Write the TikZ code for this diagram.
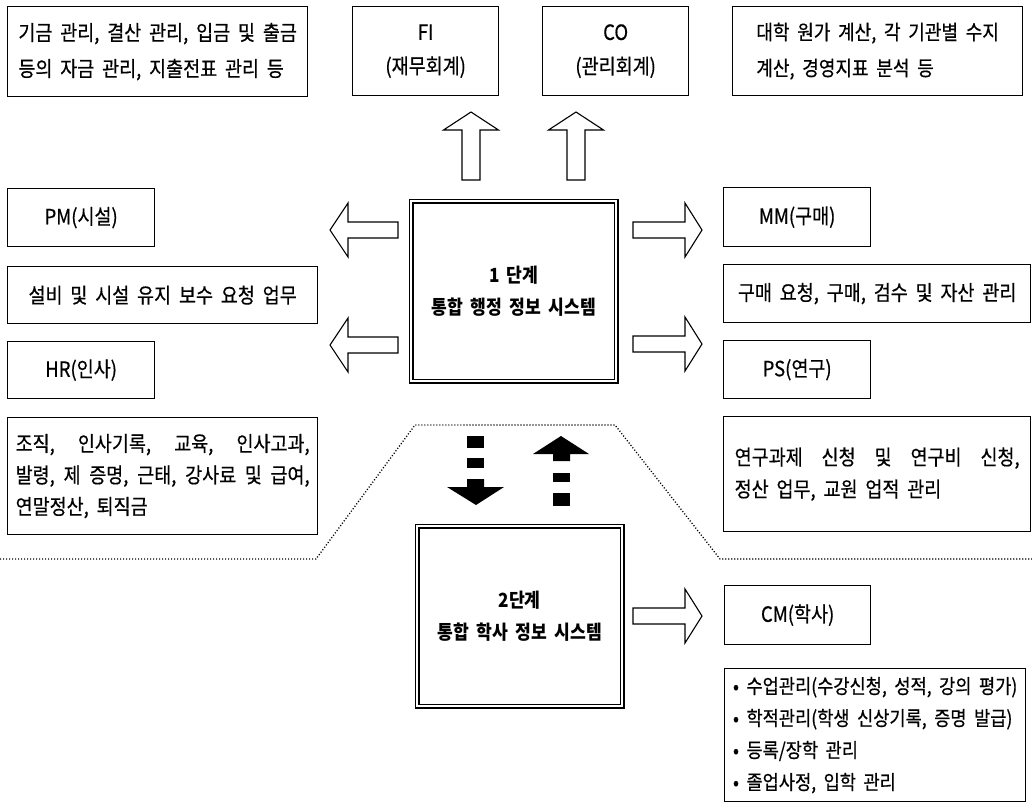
\documentclass[tikz,border=0pt]{standalone}
\usepackage{fontspec}
\setmainfont{Noto Sans CJK KR}[FakeStretch=0.88, WordSpace=1.9, UprightFeatures={FakeBold=0.5}]
\begin{document}
\begin{tikzpicture}[x=1pt,y=-1pt,
  every node/.style={font=\fontsize{21}{32}\selectfont},
  box/.style={draw, line width=1.3pt, anchor=north west, inner sep=0pt, align=center},
  lbox/.style={box, align=left},
  stage/.style={draw, double, line width=1.5pt, double distance=1.8pt, anchor=north west,
    minimum width=205, minimum height=180, align=center,
    font=\fontsize{19.5}{32}\selectfont\bfseries},
  hollow/.style={draw, line width=1.1pt, fill=white, line join=miter},
  dotline/.style={line width=1.3pt, dash pattern=on 1.1pt off 1.9pt},
  hup/.pic={\draw[hollow] (0,0) -- (27.5,18) -- (9,18) -- (9,68) -- (-9,68) -- (-9,18) -- (-27.5,18) -- cycle;},
  hleft/.pic={\draw[hollow] (0,0) -- (18,-27) -- (18,-8) -- (68,-8) -- (68,8) -- (18,8) -- (18,27) -- cycle;},
  hright/.pic={\draw[hollow] (0,0) -- (-17,-27) -- (-17,-8) -- (-69,-8) -- (-69,8) -- (-17,8) -- (-17,27) -- cycle;}
]
\useasboundingbox (0,0) rectangle (1032,804);

% top row
\node[lbox, minimum width=300, minimum height=90, font=\fontsize{21}{36}\selectfont] (desc1) at (7,6)
  {기금 관리, 결산 관리, 입금 및 출금\\등의 자금 관리, 지출전표 관리 등};
\node[box, minimum width=146, minimum height=89, font=\fontsize{21}{34}\selectfont] (fi) at (352,6) {FI\\(재무회계)};
\node[box, minimum width=146, minimum height=89, font=\fontsize{21}{34}\selectfont] (co) at (542,6) {CO\\(관리회계)};
\node[lbox, minimum width=290, minimum height=89, font=\fontsize{20.5}{36}\selectfont] (desc2) at (732,6)
  {대학 원가 계산, 각 기관별 수지\\계산, 경영지표 분석 등};

% stage boxes
\node[stage] (s1) at (410.5,200.5) {1 단계\\통합 행정 정보 시스템};
\node[stage] (s2) at (416.5,525.5) {2단계\\통합 학사 정보 시스템};

% left column
\node[box, minimum width=147, minimum height=58] (pm) at (7,188) {PM(시설)};
\node[box, minimum width=310, minimum height=57] (desc3) at (7,266) {설비 및 시설 유지 보수 요청 업무};
\node[box, minimum width=147, minimum height=57] (hr) at (7,341) {HR(인사)};
\node[lbox, minimum width=310, minimum height=117, font=\fontsize{21}{31.5}\selectfont] (desc4) at (7,417)
  {\makebox[294pt][s]{조직, 인사기록, 교육, 인사고과,}\\
   \makebox[294pt][s]{발령, 제 증명, 근태, 강사료 및 급여,}\\
   \makebox[294pt][l]{연말정산, 퇴직금}};

% right column
\node[box, minimum width=147, minimum height=59] (mm) at (723,187) {MM(구매)};
\node[box, minimum width=307, minimum height=58] (desc5) at (723,264) {구매 요청, 구매, 검수 및 자산 관리};
\node[box, minimum width=147, minimum height=58] (ps) at (723,340) {PS(연구)};
\node[lbox, minimum width=307, minimum height=115, font=\fontsize{21}{32}\selectfont] (desc6) at (723,416)
  {\makebox[285pt][s]{연구과제 신청 및 연구비 신청,}\\
   \makebox[285pt][l]{정산 업무, 교원 업적 관리}};
\node[box, minimum width=146, minimum height=59] (cm) at (724,585) {CM(학사)};
\node[lbox, minimum width=301, minimum height=133, font=\fontsize{20}{32}\selectfont] (desc7) at (724,668)
  {• 수업관리(수강신청, 성적, 강의 평가)\\• 학적관리(학생 신상기록, 증명 발급)\\• 등록/장학 관리\\• 졸업사정, 입학 관리};

% hollow arrows
\pic at (471,112) {hup};
\pic at (576,112) {hup};
\pic at (330,230) {hleft};
\pic at (330,345) {hleft};
\pic at (702,230) {hright};
\pic at (702,344) {hright};
\pic at (702,616) {hright};

% dotted separator
\draw[dotline] (0,559) -- (316,559) -- (415,425) -- (615,425) -- (720,559) -- (1032,559);

% black dashed arrows
\fill (467,436) rectangle (484,448);
\fill (467,458) rectangle (484,468);
\fill (467,479) -- (484,479) -- (484,487) -- (504,487) -- (476,505) -- (447,487) -- (467,487) -- cycle;
\fill (553,461) -- (553,454) -- (533,454) -- (561,436) -- (589,454) -- (570,454) -- (570,461) -- cycle;
\fill (553,473) rectangle (570,482);
\fill (553,493) rectangle (570,506);
\end{tikzpicture}
\end{document}
